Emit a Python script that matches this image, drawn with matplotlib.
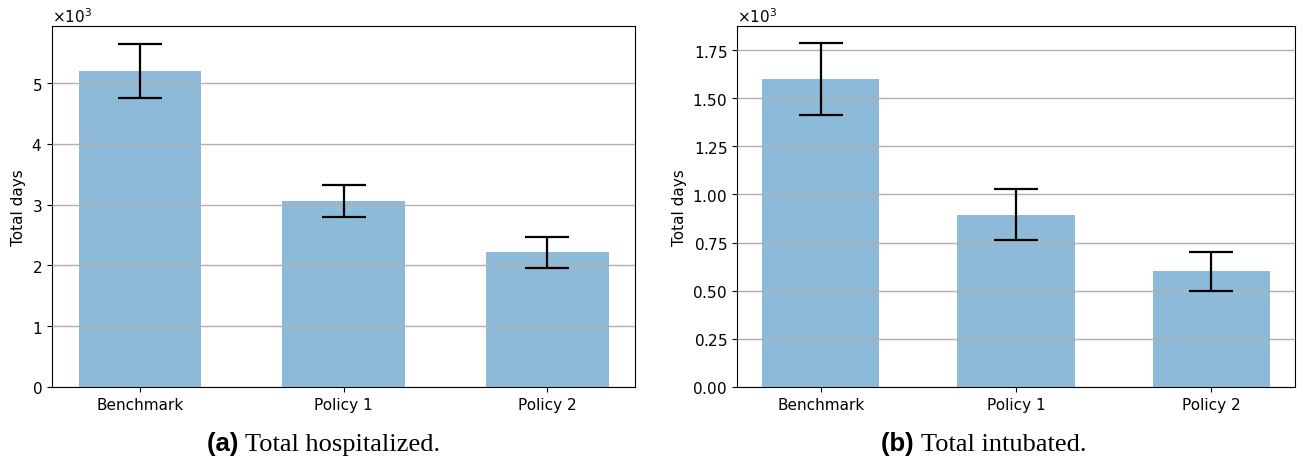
import matplotlib.pyplot as plt
from matplotlib.ticker import ScalarFormatter

categories = ['Benchmark', 'Policy 1', 'Policy 2']

# Total hospitalized days (mean and error)
hosp_mean = [5200, 3060, 2220]
hosp_err = [450, 260, 255]

# Total intubated days (mean and error)
intub_mean = [1600, 895, 602]
intub_err = [187, 133, 101]

captions = [('(a)', 'Total hospitalized.'), ('(b)', 'Total intubated.')]

fig = plt.figure(figsize=(13.06, 4.64), dpi=100)
ax1 = fig.add_axes([52 / 1306, 1 - 388 / 464, 583 / 1306, 361 / 464])
ax2 = fig.add_axes([737 / 1306, 1 - 388 / 464, 558 / 1306, 361 / 464])

panels = [(ax1, hosp_mean, hosp_err, 5940), (ax2, intub_mean, intub_err, 1875)]

for ax, means, errs, ytop in panels:
    x = range(len(categories))
    ax.bar(x, means, width=0.6, color='C0', alpha=0.5, zorder=1)
    ax.yaxis.grid(True, color='#b0b0b0', linewidth=1, zorder=1.5)
    ax.errorbar(x, means, yerr=errs, fmt='none', ecolor='black',
                elinewidth=1.6, capsize=16, capthick=1.6, zorder=3)
    ax.set_xticks(list(x))
    ax.set_xticklabels(categories)
    ax.set_ylim(0, ytop)
    ax.set_ylabel('Total days', fontsize=11)
    ax.set_axisbelow(False)
    fmt = ScalarFormatter(useMathText=True)
    fmt.set_powerlimits((0, 0))
    ax.yaxis.set_major_formatter(fmt)
    ax.yaxis.get_offset_text().set_fontsize(11)
    ax.tick_params(axis='both', labelsize=11)

ax1.set_yticks([0, 1000, 2000, 3000, 4000, 5000])
ax2.set_yticks([0, 250, 500, 750, 1000, 1250, 1500, 1750])

# captions below each panel, centred a little left of the axes centre
renderer = fig.canvas.get_renderer()
for ax, (tag, text), shift in zip([ax1, ax2], captions, [-20, -32]):
    pos = ax.get_position()
    cx = (pos.x0 + pos.x1) / 2 + shift / 1306
    t1 = fig.text(0, 0.027, tag + ' ', ha='left', va='baseline',
                  fontsize=18.5, fontweight='bold', family='Liberation Sans')
    t2 = fig.text(0, 0.027, text, ha='left', va='baseline',
                  fontsize=19, family='Liberation Serif')
    w1 = t1.get_window_extent(renderer).width / fig.bbox.width
    w2 = t2.get_window_extent(renderer).width / fig.bbox.width
    x0 = cx - (w1 + w2) / 2
    t1.set_x(x0)
    t2.set_x(x0 + w1)

fig.savefig('out.png', dpi=100)
